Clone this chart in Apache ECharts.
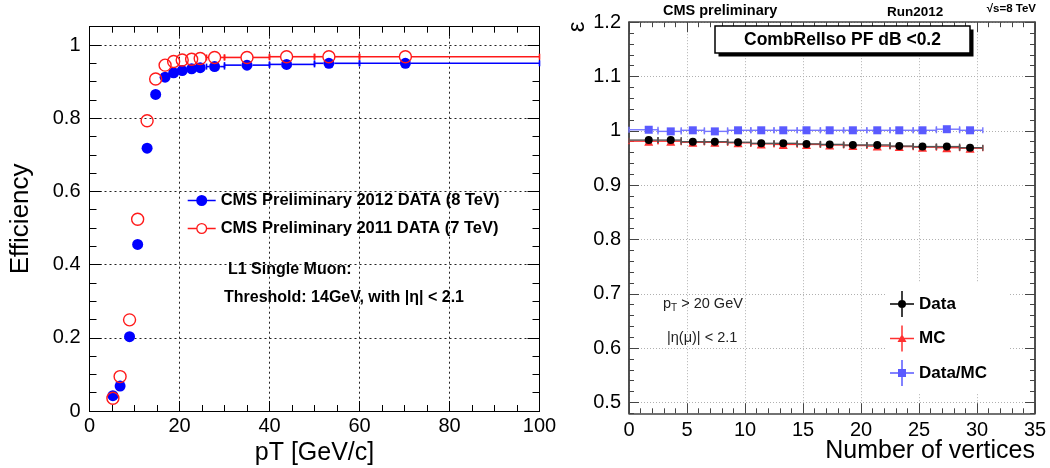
<!DOCTYPE html>
<html><head><meta charset="utf-8">
<script src="https://cdn.jsdelivr.net/npm/echarts@6/dist/echarts.min.js"></script>
<style>html,body{margin:0;padding:0;background:#fff}#c{width:1050px;height:468px}</style>
</head><body><div id="c"></div>
<script>
// ---- Left panel: L1 single muon efficiency vs pT ----
const ptX    = [5.2, 6.8, 8.9, 10.7, 12.8, 14.7, 16.8, 18.7, 20.6, 22.7, 24.6, 27.8, 35, 43.8, 53.2, 70.2];
const ptLow  = [4.5, 6, 8, 10, 12, 14, 16, 18, 20, 22, 24, 26, 30, 40, 50, 60];
const ptHigh = [6, 8, 10, 12, 14, 16, 18, 20, 22, 24, 26, 30, 40, 50, 60, 100];
const eff2012 = [0.042, 0.068, 0.203, 0.455, 0.718, 0.865, 0.912, 0.924, 0.930, 0.935, 0.938, 0.941, 0.945, 0.947, 0.950, 0.950];
const eff2011 = [0.035, 0.094, 0.249, 0.524, 0.793, 0.907, 0.945, 0.955, 0.959, 0.961, 0.963, 0.966, 0.966, 0.968, 0.968, 0.968];
const leftYTicks = [0, 0.2, 0.4, 0.6, 0.8, 1];
const name2012 = 'CMS Preliminary 2012 DATA (8 TeV)';
const name2011 = 'CMS Preliminary 2011 DATA (7 TeV)';

// ---- Right panel: isolation efficiency vs number of vertices ----
const nvX    = [1.7, 3.6, 5.5, 7.4, 9.4, 11.4, 13.3, 15.3, 17.3, 19.3, 21.4, 23.3, 25.3, 27.4, 29.4];
const nvLow  = [0, 2.5, 4.5, 6.5, 8.5, 10.5, 12.5, 14.5, 16.5, 18.5, 20.5, 22.5, 24.5, 26.5, 28.5];
const nvHigh = [2.5, 4.5, 6.5, 8.5, 10.5, 12.5, 14.5, 16.5, 18.5, 20.5, 22.5, 24.5, 26.5, 28.5, 30.5];
const effData  = [0.983, 0.983, 0.980, 0.980, 0.979, 0.977, 0.977, 0.976, 0.975, 0.974, 0.974, 0.972, 0.971, 0.971, 0.969];
const effMC    = [0.981, 0.981, 0.979, 0.979, 0.978, 0.976, 0.975, 0.975, 0.974, 0.973, 0.972, 0.971, 0.970, 0.969, 0.968];
const effRatio = [1.002, 0.999, 1.001, 0.999, 1.001, 1.001, 1.001, 1.001, 1.001, 1.001, 1.001, 1.001, 1.001, 1.003, 1.001];
const rightYTicks = [0.5, 0.6, 0.7, 0.8, 0.9, 1, 1.1, 1.2];

const FONT = '"Liberation Sans", Arial, Helvetica, sans-serif';

function rows(xs, ys, lo, hi) { return xs.map((x, i) => [x, ys[i], lo[i], hi[i]]); }
// ROOT-style horizontal error bars: segments stop at the marker edge, with end caps
function errBars(color, width, cap, gap) {
  return function (params, api) {
    const y = api.value(1);
    const c = api.coord([api.value(0), y]);
    const a = api.coord([api.value(2), y]);
    const b = api.coord([api.value(3), y]);
    const st = { stroke: color, lineWidth: width };
    const kids = [];
    if (c[0] - gap - a[0] > 1) {
      kids.push({ type: 'line', shape: { x1: a[0], y1: a[1], x2: c[0] - gap, y2: c[1] }, style: st });
      kids.push({ type: 'line', shape: { x1: a[0], y1: a[1] - cap, x2: a[0], y2: a[1] + cap }, style: st });
    }
    if (b[0] - (c[0] + gap) > 1) {
      kids.push({ type: 'line', shape: { x1: c[0] + gap, y1: c[1], x2: b[0], y2: b[1] }, style: st });
      kids.push({ type: 'line', shape: { x1: b[0], y1: b[1] - cap, x2: b[0], y2: b[1] + cap }, style: st });
    }
    return { type: 'group', children: kids };
  };
}

const LC = '#000', RC = '#444';
const line = (c, w) => ({ show: true, onZero: false, lineStyle: { color: c, width: w } });
const LEFT_GRIDLINE = { type: [2, 3], color: '#222', width: 1 };
const RIGHT_GRIDLINE = { type: [1, 2], color: '#b0b0b0', width: 1 };

const xAxes = [
  { gridIndex: 0, type: 'value', position: 'bottom', min: 0, max: 100, interval: 20,
    axisLine: line(LC, 1),
    axisTick: { inside: true, length: 10, lineStyle: { color: LC } },
    minorTick: { show: true, splitNumber: 4, length: 6, lineStyle: { color: LC } },
    axisLabel: { fontSize: 20, margin: 5, color: '#000', fontFamily: FONT },
    splitLine: { show: true, lineStyle: Object.assign({}, LEFT_GRIDLINE) },
    name: 'pT [GeV/c]', nameLocation: 'middle', nameGap: 26,
    nameTextStyle: { fontSize: 25, color: '#000', fontFamily: FONT } },
  { gridIndex: 0, type: 'value', position: 'top', min: 0, max: 100, interval: 20,
    axisLine: line(LC, 1),
    axisTick: { inside: true, length: 10, lineStyle: { color: LC } },
    minorTick: { show: true, splitNumber: 4, length: 6, lineStyle: { color: LC } },
    axisLabel: { show: false }, splitLine: { show: false } },
  { gridIndex: 1, type: 'value', position: 'bottom', min: 0, max: 35, interval: 5,
    axisLine: line(RC, 1.5),
    axisTick: { inside: true, length: 10, lineStyle: { color: RC } },
    minorTick: { show: true, splitNumber: 5, length: 5, lineStyle: { color: RC } },
    axisLabel: { fontSize: 20, margin: 7, color: '#000', fontFamily: FONT },
    splitLine: { show: true, lineStyle: Object.assign({}, RIGHT_GRIDLINE) } },
  { gridIndex: 1, type: 'value', position: 'top', min: 0, max: 35, interval: 5,
    axisLine: line(RC, 1.5),
    axisTick: { inside: true, length: 10, lineStyle: { color: RC } },
    minorTick: { show: true, splitNumber: 5, length: 5, lineStyle: { color: RC } },
    axisLabel: { show: false }, splitLine: { show: false } }
];

function yPair(grid, pos, min, max, step, majors, col, lw, longLen, shortLen, labels, split) {
  return [
    { gridIndex: grid, type: 'value', position: pos, min: min, max: max, interval: step,
      axisLine: line(col, lw),
      axisTick: { inside: true, length: shortLen, lineStyle: { color: col } },
      axisLabel: { show: false }, splitLine: { show: false } },
    { gridIndex: grid, type: 'value', position: pos, min: min, max: max, interval: step,
      axisLine: line(col, lw),
      axisTick: { inside: true, length: longLen, customValues: majors, lineStyle: { color: col } },
      axisLabel: labels ? { show: true, customValues: majors, fontSize: 20, margin: labels, color: '#000', fontFamily: FONT } : { show: false },
      splitLine: split ? { show: true, lineStyle: Object.assign({}, split) } : { show: false } }
  ];
}

const yAxes = [].concat(
  yPair(0, 'left', 0, 1.05, 0.05, leftYTicks, LC, 1, 12, 7, 9, LEFT_GRIDLINE),
  yPair(0, 'right', 0, 1.05, 0.05, leftYTicks, LC, 1, 12, 7, 0, null),
  yPair(1, 'left', 0.48, 1.2, 0.02, rightYTicks, RC, 1.5, 10, 5, 8, RIGHT_GRIDLINE),
  yPair(1, 'right', 0.48, 1.2, 0.02, rightYTicks, RC, 1.5, 10, 5, 0, null)
);
// Left axis title
yAxes[1].name = 'Efficiency';
yAxes[1].nameLocation = 'middle';
yAxes[1].nameGap = 56;
yAxes[1].nameTextStyle = { fontSize: 26, color: '#000', fontFamily: FONT };

const ICON_BLUE = 'path://M0,4.75H28V6.25H0Z M8.5,5.5a5.5,5.5 0 1,1 11,0a5.5,5.5 0 1,1 -11,0Z';
const ICON_RED = 'path://M0,4.75H9V6.25H0Z M19,4.75H28V6.25H19Z M8.5,5.5a5.5,5.5 0 1,1 11,0a5.5,5.5 0 1,1 -11,0Z M9.8,5.5a4.2,4.2 0 1,0 8.4,0a4.2,4.2 0 1,0 -8.4,0Z';
const CROSS = 'M0,12.25H24V13.75H0Z M11.25,0H12.75V26H11.25Z ';
const ICON_DATA = 'path://' + CROSS + 'M8,13a4,4 0 1,1 8,0a4,4 0 1,1 -8,0Z';
const ICON_MC = 'path://' + CROSS + 'M12,8.5L16.5,16.5H7.5Z';
const ICON_RATIO = 'path://' + CROSS + 'M8,9H16V17H8Z';

const option = {
  animation: false,
  backgroundColor: '#fff',
  textStyle: { fontFamily: FONT },
  grid: [
    { left: 89.5, top: 26.7, width: 450, height: 384.3, containLabel: false, outerBoundsMode: 'none' },
    { left: 629, top: 22.2, width: 406, height: 391.1, containLabel: false, outerBoundsMode: 'none' }
  ],
  xAxis: xAxes,
  yAxis: yAxes,
  legend: [
    { orient: 'vertical', left: 187.7, top: 192, itemWidth: 28, itemHeight: 11, itemGap: 11,
      selectedMode: false, padding: 0,
      textStyle: { fontSize: 16.5, fontWeight: 'bold', color: '#000', fontFamily: FONT },
      data: [
        { name: name2012, icon: ICON_BLUE, itemStyle: { color: '#0000ff', borderWidth: 0 } },
        { name: name2011, icon: ICON_RED, itemStyle: { color: '#ff1a1a', borderWidth: 0 } }
      ] },
    { orient: 'vertical', left: 886, top: 283, itemWidth: 24, itemHeight: 26, itemGap: 8.5,
      selectedMode: false, padding: [8, 23, 8, 4], backgroundColor: '#fff',
      textStyle: { fontSize: 17, fontWeight: 'bold', color: '#000', fontFamily: FONT },
      data: [
        { name: 'Data', icon: ICON_DATA, itemStyle: { color: '#000', borderWidth: 0 } },
        { name: 'MC', icon: ICON_MC, itemStyle: { color: '#ff3030', borderWidth: 0 } },
        { name: 'Data/MC', icon: ICON_RATIO, itemStyle: { color: '#5a5aff', borderWidth: 0 } }
      ] }
  ],
  series: [
    { type: 'custom', name: 'err2012', xAxisIndex: 0, yAxisIndex: 0, renderItem: errBars('#0000ff', 1.6, 3, 5.5),
      encode: { x: 0, y: 1 }, data: rows(ptX, eff2012, ptLow, ptHigh), z: 2 },
    { type: 'custom', name: 'err2011', xAxisIndex: 0, yAxisIndex: 0, renderItem: errBars('#ff1a1a', 1.6, 3, 6),
      encode: { x: 0, y: 1 }, data: rows(ptX, eff2011, ptLow, ptHigh), z: 2 },
    { type: 'scatter', name: name2012, xAxisIndex: 0, yAxisIndex: 0, symbol: 'circle', symbolSize: 11,
      itemStyle: { color: '#0000ff', opacity: 1 }, data: ptX.map((x, i) => [x, eff2012[i]]), z: 3 },
    { type: 'scatter', name: name2011, xAxisIndex: 0, yAxisIndex: 0, symbol: 'circle', symbolSize: 12,
      itemStyle: { color: 'rgba(0,0,0,0)', borderColor: '#ff1a1a', borderWidth: 1.4, opacity: 1 },
      data: ptX.map((x, i) => [x, eff2011[i]]), z: 4 },

    { type: 'custom', name: 'errMC', xAxisIndex: 2, yAxisIndex: 4, renderItem: errBars('#ff3030', 1.4, 3, 3),
      encode: { x: 0, y: 1 }, data: rows(nvX, effMC, nvLow, nvHigh), z: 2 },
    { type: 'scatter', name: 'MC', xAxisIndex: 2, yAxisIndex: 4, symbol: 'triangle', symbolSize: 9,
      itemStyle: { color: '#ff3030', opacity: 1 }, data: nvX.map((x, i) => [x, effMC[i]]), z: 3 },
    { type: 'custom', name: 'errData', xAxisIndex: 2, yAxisIndex: 4, renderItem: errBars('#555', 1.4, 3, 3),
      encode: { x: 0, y: 1 }, data: rows(nvX, effData, nvLow, nvHigh), z: 4 },
    { type: 'scatter', name: 'Data', xAxisIndex: 2, yAxisIndex: 4, symbol: 'circle', symbolSize: 8,
      itemStyle: { color: '#000', opacity: 1 }, data: nvX.map((x, i) => [x, effData[i]]), z: 5 },
    { type: 'custom', name: 'errRatio', xAxisIndex: 2, yAxisIndex: 4, renderItem: errBars('#7676ff', 1.4, 3, 3),
      encode: { x: 0, y: 1 }, data: rows(nvX, effRatio, nvLow, nvHigh), z: 4 },
    { type: 'scatter', name: 'Data/MC', xAxisIndex: 2, yAxisIndex: 4, symbol: 'rect', symbolSize: 8,
      itemStyle: { color: '#5a5aff', opacity: 1 }, data: nvX.map((x, i) => [x, effRatio[i]]), z: 5 }
  ],
  graphic: [
    { type: 'text', left: 228, top: 262, z: 10,
      style: { text: 'L1 Single Muon:', font: 'bold 16px ' + FONT, fill: '#000' } },
    { type: 'text', left: 224, top: 290, z: 10,
      style: { text: 'Threshold: 14GeV, with |η| < 2.1', font: 'bold 16px ' + FONT, fill: '#000' } },
    // right panel header
    { type: 'text', left: 663, top: 3, z: 10,
      style: { text: 'CMS preliminary', font: 'bold 14.5px ' + FONT, fill: '#000' } },
    { type: 'text', left: 887, top: 5, z: 10,
      style: { text: 'Run2012', font: 'bold 13.5px ' + FONT, fill: '#000' } },
    { type: 'text', right: 14, top: 3, z: 10,
      style: { text: '√s=8 TeV', font: 'bold 11.5px ' + FONT, fill: '#000' } },
    { type: 'text', x: 577, y: 27, rotation: Math.PI / 2, z: 10,
      style: { text: 'ε', font: '24px ' + FONT, fill: '#000', align: 'center', verticalAlign: 'middle' } },
    // right x-axis title, right-aligned with the frame
    { type: 'text', right: 15, top: 439, z: 10,
      style: { text: 'Number of vertices', font: '25px ' + FONT, fill: '#000' } },
    // CombRelIso box with shadow
    { type: 'rect', shape: { x: 718.5, y: 29.5, width: 255, height: 27 }, style: { fill: '#000' }, z: 10 },
    { type: 'rect', shape: { x: 715, y: 26, width: 255, height: 27 }, style: { fill: '#fff', stroke: '#000', lineWidth: 1.5 }, z: 11 },
    { type: 'text', x: 842.5, y: 40, z: 12,
      style: { text: 'CombRelIso PF dB <0.2', font: 'bold 17.5px ' + FONT, fill: '#000', align: 'center', verticalAlign: 'middle' } },
    // cut annotations
    { type: 'text', left: 663, top: 296, z: 10,
      style: { rich: { a: { fontSize: 14.5, fontFamily: FONT, fill: '#222' }, s: { fontSize: 10, fontFamily: FONT, fill: '#222', padding: [10, 0, 0, 0] } },
               text: '{a|p}{s|T}{a| > 20 GeV}' } },
    { type: 'text', left: 667, top: 330, z: 10,
      style: { text: '|η(μ)| < 2.1', font: '14.5px ' + FONT, fill: '#222' } }
  ]
};

const chart = echarts.init(document.getElementById('c'), null, { renderer: 'canvas' });
chart.setOption(option);
</script>
</body></html>
